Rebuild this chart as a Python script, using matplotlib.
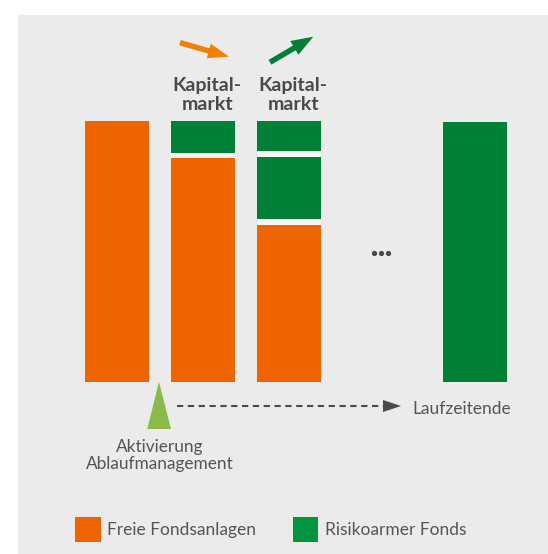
import matplotlib
matplotlib.use("Agg")
import matplotlib.pyplot as plt
from matplotlib.patches import FancyArrow, Polygon, Rectangle

plt.rcParams['font.family'] = ['Lato', 'DejaVu Sans']

# Anteile je Phase (Prozent der Gesamthoehe)
phasen = ['Start', 'Aktivierung', 'Phase 2', 'Laufzeitende']
freie_fonds = [100, 85.7, 60.2, 0]
risiko_neu = [0, 0, 24.0, 0]
risiko_alt = [0, 12.0, 11.5, 99.5]
kopf_label = ['', 'Kapital-\nmarkt', 'Kapital-\nmarkt', '']
legende = ['Freie Fondsanlagen', 'Risikoarmer Fonds']

ORANGE = '#ee6500'
GREEN = '#008037'
GREEN_LEG = '#00963f'
GRAU_BG = '#ebebeb'
TXT = '#555555'
TXT_DUNKEL = '#4a4a4a'

fig = plt.figure(figsize=(5.48, 5.54), dpi=100)
fig.patch.set_facecolor('white')

# Balken-Achse (grauer Kasten)
ax = fig.add_axes([18 / 548, 0, 530 / 548, 539 / 554])
ax.set_facecolor(GRAU_BG)
ax.set_xlim((18 - 117.3) / 86, (548 - 117.3) / 86)
ax.set_ylim((381.7 - 554) / 2.61, (381.7 - 15) / 2.61)
for s in ax.spines.values():
    s.set_visible(False)
ax.set_xticks([])
ax.set_yticks([])

pos = [0, 1, 2, 4.16]
breite = 0.744
luecke = 2.0

# hellere Fugen zwischen den Segmenten
for i in range(len(phasen)):
    segs = [v for v in (freie_fonds[i], risiko_neu[i], risiko_alt[i]) if v > 0]
    total = sum(segs) + luecke * (len(segs) - 1)
    ax.bar(pos[i], total, width=breite, color='#f6f6f6', zorder=1)

    unten = 0
    for wert, farbe in zip((freie_fonds[i], risiko_neu[i], risiko_alt[i]),
                           (ORANGE, GREEN, GREEN)):
        if wert <= 0:
            continue
        ax.bar(pos[i], wert, bottom=unten, width=breite, color=farbe, zorder=2)
        unten += wert + luecke

# Overlay in Pixelkoordinaten fuer Beschriftungen
ax2 = fig.add_axes([0, 0, 1, 1])
ax2.set_xlim(0, 548)
ax2.set_ylim(554, 0)
ax2.axis('off')
ax2.patch.set_alpha(0)

# Kapitalmarkt-Labels und Pfeile
for i, lab in enumerate(kopf_label):
    if not lab:
        continue
    cx = 117.3 + pos[i] * 86 + 4
    z1, z2 = lab.split('\n')
    ax2.text(cx, 91, z1, ha='center', va='baseline', fontsize=14,
             fontweight='bold', color=TXT_DUNKEL)
    ax2.text(cx, 110.5, z2, ha='center', va='baseline', fontsize=14,
             fontweight='bold', color=TXT_DUNKEL)

ax2.add_patch(FancyArrow(180, 42.7, 49, 14, width=5.5, head_width=15,
                         head_length=21, length_includes_head=True,
                         color='#f08000', lw=0))
ax2.add_patch(FancyArrow(270, 62.3, 43.3, -25.6, width=5.5, head_width=16,
                         head_length=22, length_includes_head=True,
                         color=GREEN, lw=0))

# Punkte
ax2.plot([374, 381, 388], [253, 253, 253], 'o', ms=3.8, color=TXT_DUNKEL,
         mec='none')

# Aktivierung
ax2.add_patch(Polygon([(159, 381.7), (147.3, 429), (171, 429)],
                      closed=True, color='#8aba4b', lw=0))
ax2.text(160, 451.7, 'Aktivierung', ha='center', va='baseline',
         fontsize=12.4, color=TXT)
ax2.text(160, 469, 'Ablaufmanagement', ha='center', va='baseline',
         fontsize=12.4, color=TXT)

# Zeitpfeil
ax2.plot([177, 384], [406, 406], color=TXT_DUNKEL, lw=1.5,
         ls=(0, (3, 2.2)))
ax2.add_patch(Polygon([(383, 400), (401, 406), (383, 412)], closed=True,
                      color=TXT_DUNKEL, lw=0))
ax2.text(412, 414, 'Laufzeitende', ha='left', va='baseline', fontsize=12.5,
         color=TXT)

# Legende
ax2.add_patch(Rectangle((75, 516.7), 25.5, 25, color=ORANGE, lw=0))
ax2.text(107.3, 535, legende[0], ha='left', va='baseline', fontsize=12.5,
         color=TXT)
ax2.add_patch(Rectangle((293.3, 516.7), 25, 25, color=GREEN_LEG, lw=0))
ax2.text(325, 535, legende[1], ha='left', va='baseline', fontsize=12.5,
         color=TXT)

fig.savefig('out.png', dpi=100)
